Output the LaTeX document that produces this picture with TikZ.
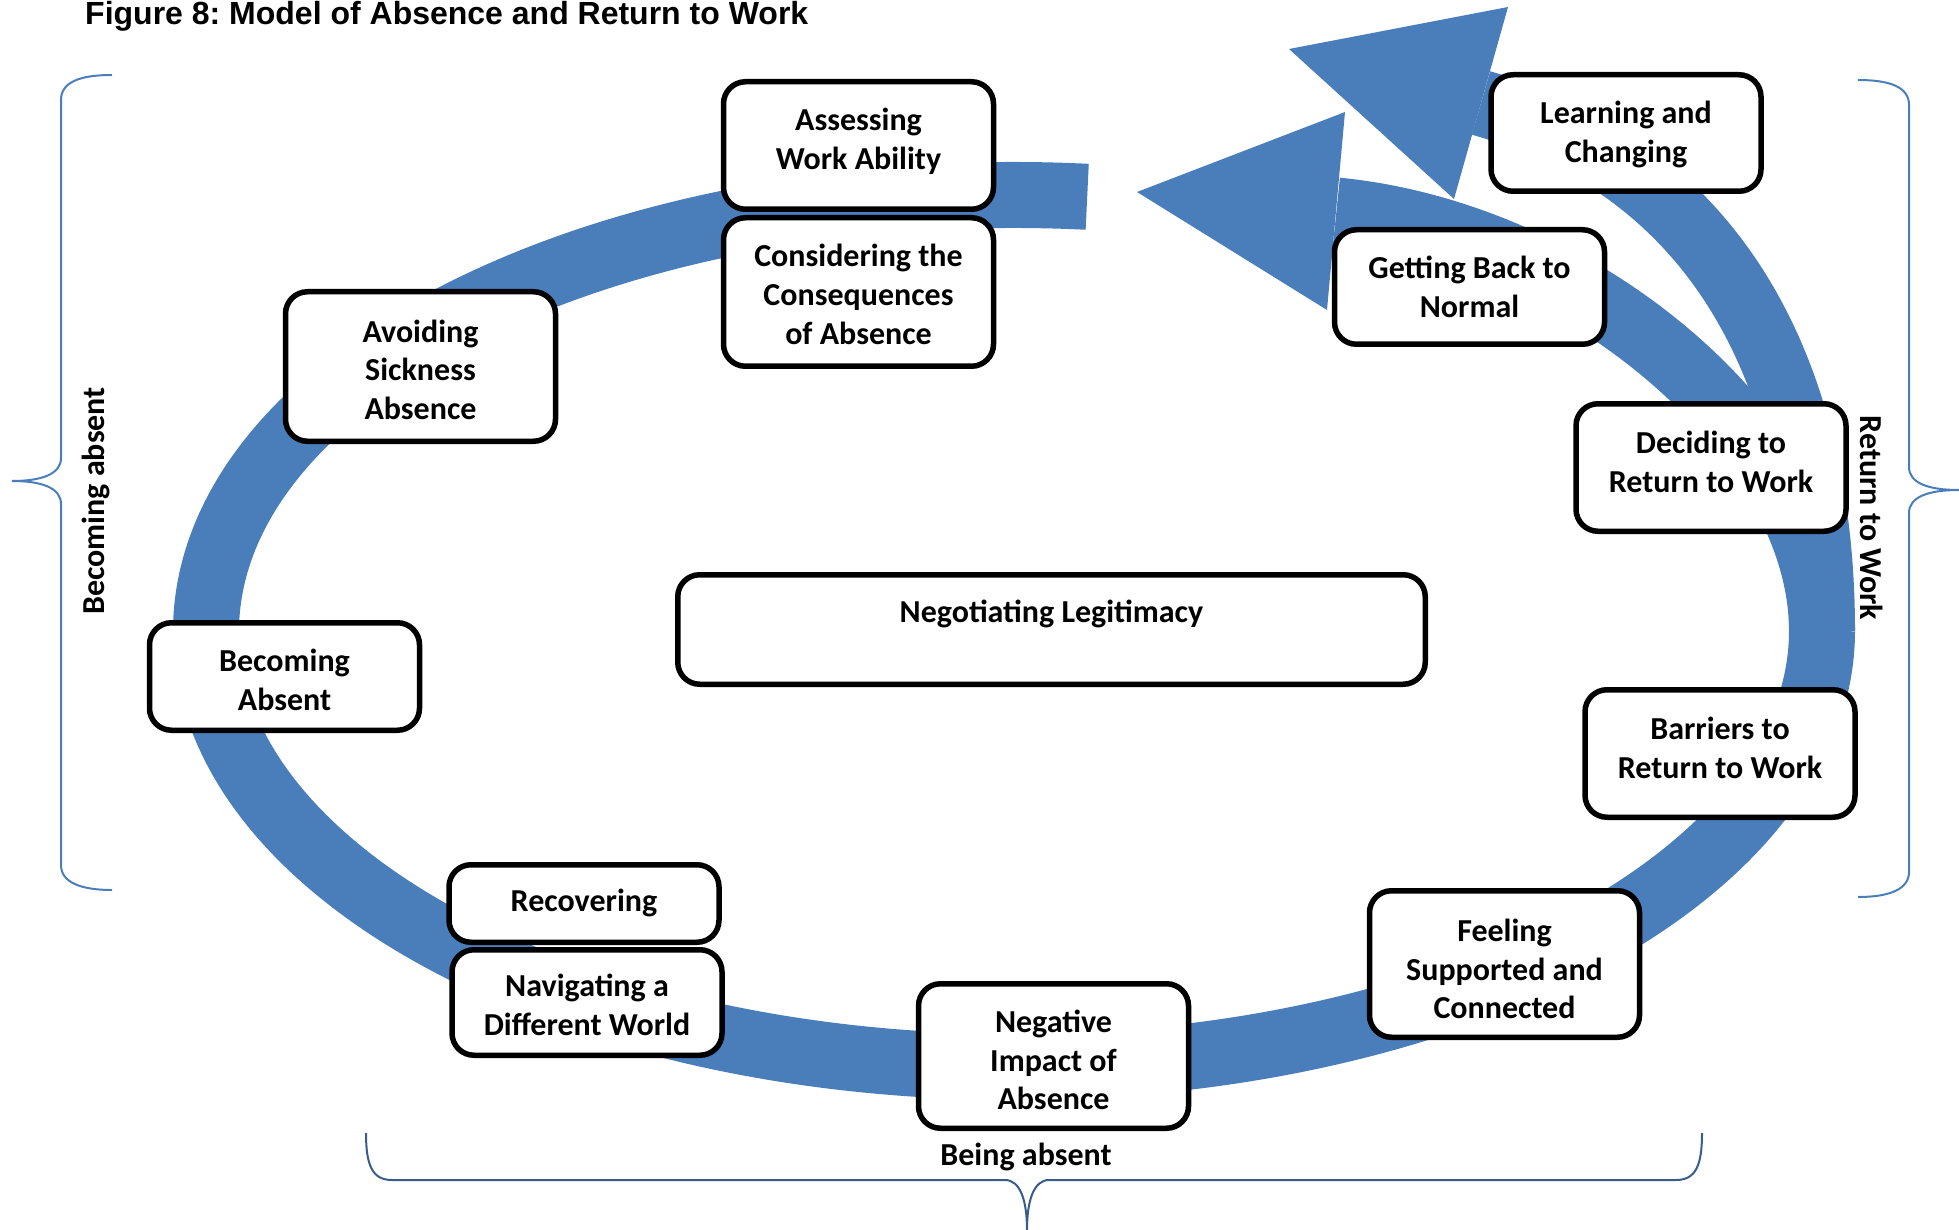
\documentclass[tikz,border=0pt]{standalone}
\usepackage{fontspec}
\setmainfont{Carlito}
\newfontfamily\titlefont{Liberation Sans}
\definecolor{bandblue}{HTML}{4A7EBB}
\definecolor{braceblue}{HTML}{4A7EBB}
\definecolor{bracedark}{HTML}{385D8A}
\frenchspacing
\begin{document}
\begin{tikzpicture}[x=1pt,y=-1pt,
  band/.style={draw=bandblue, line width=66pt},
  head/.style={fill=bandblue, draw=none},
  box/.style={draw=black, fill=white, line width=5.5pt, rounded corners=22pt,
    minimum width=270pt, align=center, inner sep=0pt,
    font=\bfseries\fontsize{32}{38.7}\selectfont},
  % lines/shift: text height and depth so the text sits as in the reference
  txt/.style 2 args={text height={(#1-1)*38.7pt+22pt+2*(#2)}, text depth=7pt},
  brace/.style={draw=braceblue, line width=2pt},
  lbl/.style={inner sep=0pt, font=\bfseries\fontsize{32}{38.7}\selectfont}]
\useasboundingbox (0,0) rectangle (1959,1230);

% ---------- blue circular band ----------
\coordinate (start) at (1087.2,196.8);
\coordinate (junc) at (1822,631);
\coordinate (outerback) at (1481,103);
\coordinate (innerback) at (1336.5,210.5);
\draw[band] (start) arc[start angle=-84.8, end angle=-360, x radius=808, y radius=436];
\draw[band] (junc) .. controls (1822,380) and (1722,171) .. (outerback);
\draw[band] (junc) .. controls (1822,440) and (1585,235) .. (innerback);
\fill[head] (1289,49) -- (1508,7) -- (1454,199) -- cycle;
\fill[head] (1137,192) -- (1345,112) -- (1327,310) -- cycle;

% ---------- boxes ----------
\node[box, minimum height=127.5pt, txt={2}{-2.75pt}] (assess) at (858.5,145.5) {Assessing\\Work Ability};
\node[box, minimum height=148.5pt, txt={3}{5.9pt}] (consider) at (858.5,292) {Considering the\\Consequences\\of Absence};
\node[box, minimum height=149.5pt, txt={3}{6.7pt}] (avoid) at (420.5,366.5) {Avoiding\\Sickness\\Absence};
\node[box, minimum height=107.5pt, txt={2}{6.75pt}] (becoming) at (284.5,676.5) {Becoming\\Absent};
\node[box, minimum height=77.5pt, txt={1}{0pt}] (recover) at (584,903.5) {Recovering};
\node[box, minimum height=105.5pt, txt={2}{5.75pt}] (navigate) at (587,1002.5) {Navigating a\\Different World};
\node[box, minimum height=144.5pt, txt={3}{7.75pt}] (negative) at (1053.5,1056) {Negative\\Impact of\\Absence};
\node[box, minimum height=146.5pt, txt={3}{8.75pt}] (feeling) at (1504.5,964) {Feeling\\Supported and\\Connected};
\node[box, minimum height=127.5pt, txt={2}{-2.25pt}] (barriers) at (1720,753.5) {Barriers to\\Return to Work};
\node[box, minimum height=127.5pt, txt={2}{-2.25pt}] (deciding) at (1711,467.5) {Deciding to\\Return to Work};
\node[box, minimum height=114.5pt, txt={2}{3.75pt}] (getting) at (1469.5,287) {Getting Back to\\Normal};
\node[box, minimum height=116.5pt, txt={2}{2.25pt}] (learning) at (1626,133) {Learning and\\Changing};
\node[box, minimum width=747.5pt, minimum height=109.5pt, inner ysep=20pt,
  text height=27.75pt, text depth=41.75pt] (negot) at (1051.5,629.5) {Negotiating Legitimacy};

% ---------- braces ----------
\draw[brace] (112,75) .. controls (80,75) and (61,82) .. (61,100) -- (61,458)
  .. controls (61,474) and (42,481) .. (12,481)
  .. controls (42,481) and (61,488) .. (61,504) -- (61,865)
  .. controls (61,882) and (80,890) .. (112,890);
\draw[brace] (1858,80) .. controls (1890,80) and (1909,87) .. (1909,105) -- (1909,467)
  .. controls (1909,483) and (1928,490) .. (1959,490)
  .. controls (1928,490) and (1909,497) .. (1909,513) -- (1909,872)
  .. controls (1909,889) and (1890,897) .. (1858,897);
\draw[brace, draw=bracedark] (366,1133) .. controls (366,1165) and (372,1180) .. (392,1180) -- (1005,1180)
  .. controls (1020,1180) and (1027,1200) .. (1027,1230)
  .. controls (1027,1200) and (1034,1180) .. (1049,1180) -- (1676,1180)
  .. controls (1696,1180) and (1702,1165) .. (1702,1133);

% ---------- labels ----------
\node[lbl, rotate=90] (lbecoming) at (96,501) {Becoming absent};
\node[lbl, rotate=-90] (lreturn) at (1872,518) {Return to Work};
\node[lbl] (lbeing) at (1026,1157) {Being absent};
\node[anchor=base west, inner sep=0pt, font=\titlefont\bfseries\fontsize{32}{38}\selectfont] (title) at (85,25) {Figure 8: Model of Absence and Return to Work};
\end{tikzpicture}
\end{document}
